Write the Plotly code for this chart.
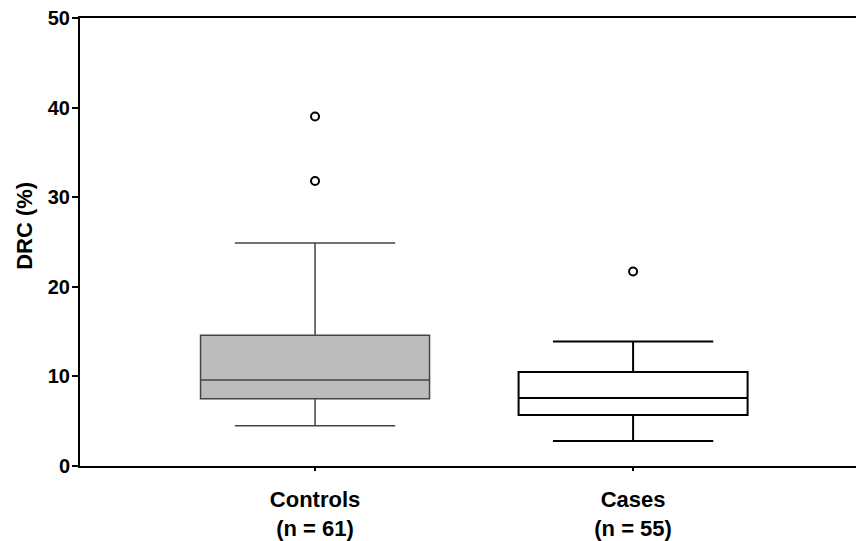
import plotly.graph_objects as go

groups = ["Controls", "Cases"]
n_labels = ["(n = 61)", "(n = 55)"]
q1 = [7.5, 5.7]
median = [9.6, 7.6]
q3 = [14.6, 10.5]
lower = [4.5, 2.8]
upper = [24.9, 13.9]
outliers = [[31.8, 39.0], [21.7]]
yticks = [0, 10, 20, 30, 40, 50]

fills = ["#bcbcbc", "#ffffff"]
lines = ["#444444", "#000000"]
line_w = [1.5, 2]

fig = go.Figure()
for i, g in enumerate(groups):
    fig.add_trace(go.Box(
        x=[i], q1=[q1[i]], median=[median[i]], q3=[q3[i]],
        lowerfence=[lower[i]], upperfence=[upper[i]],
        width=0.72, whiskerwidth=0.7, boxpoints=False,
        fillcolor=fills[i], line=dict(color=lines[i], width=line_w[i]),
        name=g, showlegend=False, hoverinfo="skip"))
    fig.add_trace(go.Scatter(
        x=[i] * len(outliers[i]), y=outliers[i], mode="markers",
        marker=dict(symbol="circle-open", size=8, color="black", line=dict(width=2)),
        showlegend=False, hoverinfo="skip", cliponaxis=False))

ticktext = [f"<b>{g}</b><br><b>{n}</b>" for g, n in zip(groups, n_labels)]

fig.add_annotation(text="<b>DRC (%)</b>", textangle=-90, xref="paper", yref="paper",
                   x=-0.0702, y=0.536, showarrow=False, font=dict(size=22),
                   xanchor="center", yanchor="middle")

fig.update_layout(
    width=856, height=533,
    margin=dict(l=72, r=0, t=10, b=75, autoexpand=False),
    paper_bgcolor="white", plot_bgcolor="white",
    font=dict(family="Liberation Sans, Arial, sans-serif", color="black"),
    xaxis=dict(range=[-0.739, 1.726], tickvals=[0, 1], ticktext=ticktext,
               showline=True, linecolor="black", linewidth=2, mirror=True,
               ticks="outside", ticklen=3, tickwidth=2, tickcolor="black",
               ticklabelstandoff=10,
               showgrid=False, zeroline=False, tickfont=dict(size=22)),
    yaxis=dict(range=[0, 50], tickvals=yticks,
               ticktext=[f"<b>{v}</b>" for v in yticks],
               showline=True, linecolor="black", linewidth=2, mirror=False,
               ticks="outside", ticklen=6, tickwidth=2, tickcolor="black",
               ticklabelstandoff=-2, ticklabeloverflow="allow",
               showgrid=False, zeroline=False, tickfont=dict(size=20)),
)

fig.write_html("out.html")
